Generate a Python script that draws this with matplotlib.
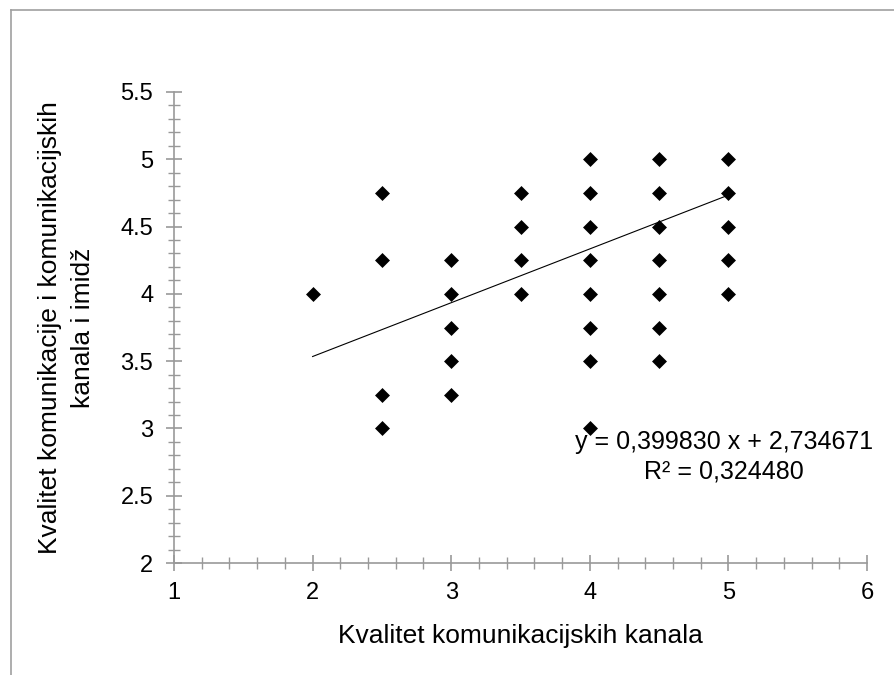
import numpy as np
import matplotlib
matplotlib.use('Agg')
import matplotlib.pyplot as plt
from matplotlib.ticker import MultipleLocator
from matplotlib.lines import Line2D

plt.rcParams['font.family'] = ['Liberation Sans', 'DejaVu Sans']

# data, one list per column of points
x_vals = [2,
          2.5, 2.5, 2.5, 2.5,
          3, 3, 3, 3, 3,
          3.5, 3.5, 3.5, 3.5,
          4, 4, 4, 4, 4, 4, 4, 4,
          4.5, 4.5, 4.5, 4.5, 4.5, 4.5, 4.5,
          5, 5, 5, 5, 5]
y_vals = [4,
          4.75, 4.25, 3.25, 3.0,
          4.25, 4.0, 3.75, 3.5, 3.25,
          4.75, 4.5, 4.25, 4.0,
          5, 4.75, 4.5, 4.25, 4.0, 3.75, 3.5, 3.0,
          5, 4.75, 4.5, 4.25, 4.0, 3.75, 3.5,
          5, 4.75, 4.5, 4.25, 4.0]

slope = 0.399830
intercept = 2.734671
r2 = 0.324480

x_ticks = [1, 2, 3, 4, 5, 6]
y_ticks = [2, 2.5, 3, 3.5, 4, 4.5, 5, 5.5]

x_title = 'Kvalitet komunikacijskih kanala'
y_title = 'Kvalitet komunikacije i komunikacijskih\nkanala i imidž'

fig = plt.figure(figsize=(8.94, 6.75), dpi=100)
ax = fig.add_axes([174/894, 1-563/675, (867-174)/894, (563-92)/675])

# chart border (only top and left visible in the crop)
fig.add_artist(Line2D([10.5/894, 1.2], [1-9.5/675, 1-9.5/675], transform=fig.transFigure,
                      color='#a0a0a0', lw=1.2, clip_on=False))
fig.add_artist(Line2D([10.5/894, 10.5/894], [1-9.5/675, -0.2], transform=fig.transFigure,
                      color='#a0a0a0', lw=1.2, clip_on=False))

ax.scatter(x_vals, y_vals, marker='D', s=58, color='black', zorder=3, linewidths=0)

xs = np.array([min(x_vals), max(x_vals)])
ax.plot(xs, slope*xs + intercept, color='black', lw=0.8)

eq = 'y = %s x + %s\nR² = %s' % (('%.6f' % slope).replace('.', ','),
                                  ('%.6f' % intercept).replace('.', ','),
                                  ('%.6f' % r2).replace('.', ','))
ax.text(0.794, 0.225, eq, transform=ax.transAxes, ha='center', va='center',
        fontsize=18, linespacing=1.3)

ax.set_xlim(1, 6)
ax.set_ylim(2, 5.5)
ax.xaxis.set_minor_locator(MultipleLocator(0.2))
ax.yaxis.set_minor_locator(MultipleLocator(0.1))
ax.set_xticks(x_ticks)
ax.set_xticklabels([str(v) for v in x_ticks])
ax.set_yticks(y_ticks)
ax.set_yticklabels(['%g' % v for v in y_ticks])

for s in ['top', 'right']:
    ax.spines[s].set_visible(False)
for s in ['left', 'bottom']:
    ax.spines[s].set_color('#999999')
    ax.spines[s].set_linewidth(1.2)

ax.tick_params(which='major', direction='inout', length=12, width=1.2, color='#999999',
               labelsize=17, labelcolor='black')
ax.tick_params(which='minor', direction='inout', length=8, width=1.0, color='#999999')
ax.tick_params(axis='y', which='major', pad=9)
ax.tick_params(axis='x', which='major', pad=8)

ax.set_xlabel(x_title, fontsize=19, labelpad=14)
ax.set_ylabel(y_title, fontsize=19, labelpad=18, linespacing=1.5)

fig.savefig('out.png', dpi=100)
